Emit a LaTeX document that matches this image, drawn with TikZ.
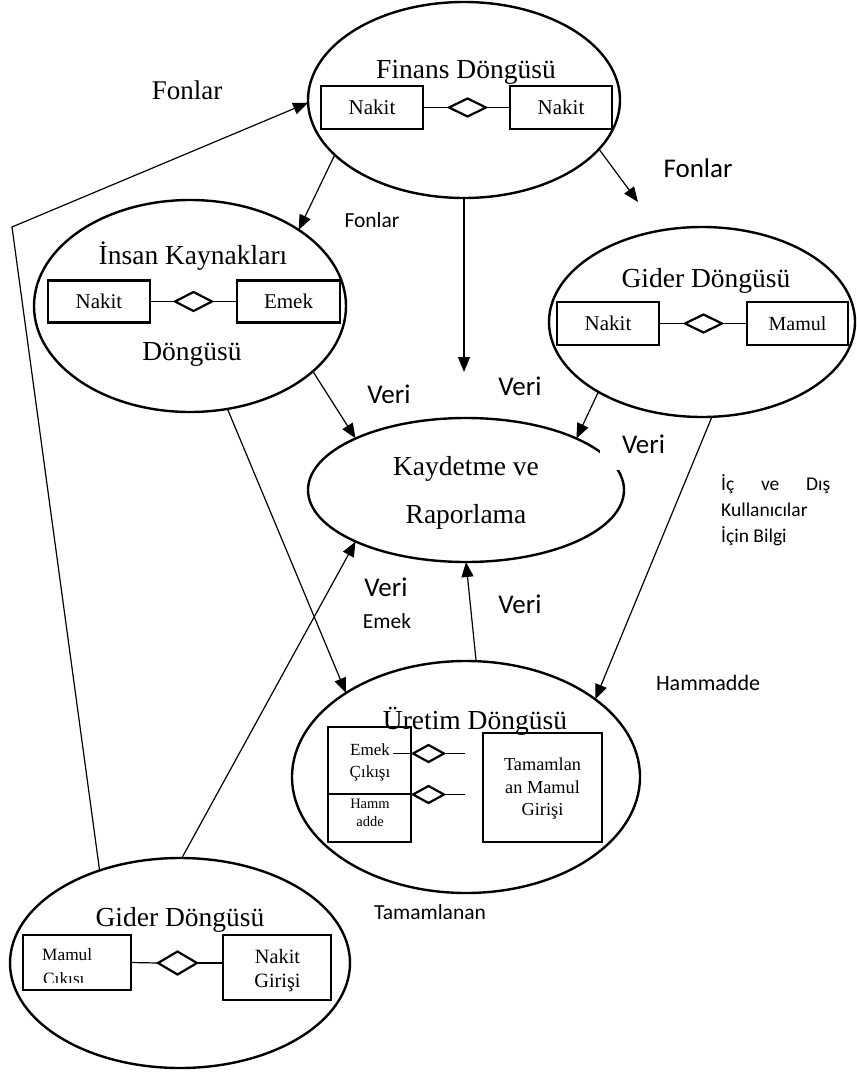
\documentclass[tikz,border=0pt]{standalone}
\usepackage{fontspec}
\setmainfont{Liberation Serif}
\newfontfamily\labelfont{Carlito}
\usetikzlibrary{shapes.geometric,arrows.meta}

\begin{document}
\begin{tikzpicture}[x=1pt,y=-1pt,
  cycle/.style={draw, ellipse, line width=2.4pt, inner sep=0pt, outer sep=0pt},
  entity/.style={draw, rectangle, line width=2.4pt, inner sep=0pt, outer sep=0pt,
    font=\fontsize{21}{25}\selectfont},
  rel/.style={draw, diamond, line width=2.2pt, inner sep=0pt, outer sep=0pt,
    minimum width=37pt, minimum height=18pt},
  smallrel/.style={rel, minimum width=31pt, minimum height=17pt},
  link/.style={line width=1.2pt},
  flow/.style={line width=1.2pt, -{Triangle[length=15pt,width=12pt]}},
  title/.style={anchor=base, inner sep=0pt, font=\fontsize{27.5}{33}\selectfont},
  btext/.style={anchor=base, inner sep=0pt},
  lblg/.style={anchor=base, inner sep=0pt, font=\labelfont\fontsize{27}{32}\selectfont},
  lbsm/.style={anchor=base, inner sep=0pt, font=\labelfont\fontsize{21.5}{26}\selectfont},
  lbinfo/.style={anchor=base west, inner sep=0pt, font=\labelfont\fontsize{19.5}{26}\selectfont}
]
\useasboundingbox (0,0) rectangle (856,1075);

% cycle ellipses
\node[cycle, minimum width=312pt, minimum height=196pt] (fin) at (464,100) {};
\node[cycle, minimum width=312pt, minimum height=212pt] (ins) at (190,306) {};
\node[cycle, minimum width=306pt, minimum height=190pt] (gr)  at (702,322) {};
\node[cycle, minimum width=316pt, minimum height=144pt] (kay) at (466,490) {};
\node[cycle, minimum width=348pt, minimum height=232pt] (ure) at (466,777) {};
\node[cycle, minimum width=340pt, minimum height=210pt] (gb)  at (180,963) {};

% titles
\node[title] (fint) at (466,79)  {Finans Döngüsü};
\node[title] (inst) at (193,265) {İnsan Kaynakları};
\node[title] (insd) at (192,360) {Döngüsü};
\node[title] (grt)  at (706,287) {Gider Döngüsü};
\node[title] (kay1) at (466,475) {Kaydetme ve};
\node[title] (kay2) at (466,523) {Raporlama};
\node[title] (uret) at (475,729) {Üretim Döngüsü};
\node[title] (gbt)  at (180,926) {Gider Döngüsü};

% finance cycle
\node[entity, minimum width=102pt, minimum height=43pt] (fn1) at (372,107.5) {Nakit};
\node[entity, minimum width=102pt, minimum height=43pt] (fn2) at (561,107.5) {Nakit};
\node[rel] (fd) at (467.5,107.5) {};
\draw[link] (fn1.east) -- (fd.west);
\draw[link] (fd.east) -- (fn2.west);

% human resources cycle
\node[entity, minimum width=102pt, minimum height=42pt] (in1) at (99,301.5) {Nakit};
\node[entity, minimum width=103pt, minimum height=42pt] (in2) at (288.5,301.5) {Emek};
\node[rel, minimum height=19pt] (id) at (193.5,301.5) {};
\draw[link] (in1.east) -- (id.west);
\draw[link] (id.east) -- (in2.west);

% expenditure cycle (right)
\node[entity, minimum width=102pt, minimum height=43pt] (g1) at (608,323.5) {Nakit};
\node[entity, minimum width=101pt, minimum height=43pt, font=\fontsize{20}{24}\selectfont] (g2) at (797.5,323.5) {Mamul};
\node[rel] (gd) at (703.5,323.5) {};
\draw[link] (g1.east) -- (gd.west);
\draw[link] (gd.east) -- (g2.west);

% production cycle
\node[entity, minimum width=83pt, minimum height=67pt] (ue) at (369.5,760.5) {};
\node[entity, minimum width=83pt, minimum height=48pt] (uh) at (369.5,818) {};
\node[entity, minimum width=119pt, minimum height=109pt] (ut) at (542.5,787.5) {};
\node[smallrel] (ud1) at (428.5,753.5) {};
\node[smallrel] (ud2) at (428.5,794.5) {};
\coordinate (uel) at (393,753.5);
\coordinate (ue1) at (465,753.5);
\coordinate (ue2) at (465,794.5);
\draw[link] (uel) -- (ud1.west);
\draw[link] (ud1.east) -- (ue1);
\draw[link] (uh.north east) -- (ud2.west);
\draw[link] (ud2.east) -- (ue2);
\node[btext, font=\fontsize{17}{20}\selectfont] (uet1) at (370,755) {Emek};
\node[btext, font=\fontsize{17}{20}\selectfont] (uet2) at (370,777) {Çıkışı};
\node[btext, font=\fontsize{14.5}{17}\selectfont] (uht1) at (370,808) {Hamm};
\node[btext, font=\fontsize{14.5}{17}\selectfont] (uht2) at (370,826) {adde};
\node[btext, font=\fontsize{18.3}{22}\selectfont] (utt1) at (542.5,770) {Tamamlan};
\node[btext, font=\fontsize{18.3}{22}\selectfont] (utt2) at (542.5,793) {an Mamul};
\node[btext, font=\fontsize{18.3}{22}\selectfont] (utt3) at (542.5,815) {Girişi};

% expenditure cycle (bottom)
\node[entity, minimum width=108pt, minimum height=55pt] (bm) at (77,962.5) {};
\node[entity, minimum width=108pt, minimum height=65pt] (bn) at (277,967.5) {};
\node[rel, minimum width=39pt, minimum height=23pt] (bd) at (177.5,963) {};
\draw[link] (bm.east) -- (bd.west);
\draw[link] (bd.east) -- (bd.east -| bn.west);
\node[btext, anchor=base west, font=\fontsize{17.3}{21}\selectfont] (bmt1) at (42,960) {Mamul};
\begin{scope}
  \clip (24,940) rectangle (129,982);
  \node[btext, anchor=base west, font=\fontsize{17.3}{21}\selectfont] (bmt2) at (43,984) {Çıkışı};
\end{scope}
\node[btext, font=\fontsize{20.3}{24}\selectfont] (bnt1) at (277.5,963) {Nakit};
\node[btext, font=\fontsize{20.3}{24}\selectfont] (bnt2) at (277.5,987) {Girişi};

% flows between the cycles
\coordinate (bend) at (12,227);
\coordinate (fonend) at (638,202);
\coordinate (finend) at (464,372);
\draw[flow] (gb.131) -- (bend) -- (fin.181);
\draw[flow] (fin.203) -- (ins.35);
\draw[flow] (fin.340) -- (fonend);
\draw[flow] (fin.south) -- (finend);
\draw[flow] (ins.332) -- (kay.155);
\draw[flow] (gr.214) -- (kay.25);
\draw[flow] (ins.290) -- (ure.145);
\draw[flow] (gr.276) -- (ure.31);
\draw[flow] (ure.85) -- (kay.270);
\draw[flow] (gb.89) -- (kay.205);

% flow labels
\node[title, font=\fontsize{27}{32}\selectfont] (fonL) at (187,100) {Fonlar};
\node[lblg] (fonR) at (698,178) {Fonlar};
\node[lbsm] (fonS) at (372,228) {Fonlar};
\node[lblg] (veri1) at (389,403) {Veri};
\node[lblg] (veri2) at (520,395) {Veri};
\node[lblg, fill=white, text height=20pt, text depth=17pt, inner xsep=22pt] (veri3) at (643.5,453) {Veri};
\node[lblg] (veri4) at (386,596) {Veri};
\node[lbsm] (emek) at (387,628) {Emek};
\node[lblg] (veri5) at (520,613) {Veri};
\node[lbinfo] (info1) at (721,490) {\makebox[109pt][s]{İç ve Dış}};
\node[lbinfo] (info2) at (721,516) {Kullanıcılar};
\node[lbinfo] (info3) at (721,542) {İçin Bilgi};
\node[lbsm, font=\labelfont\fontsize{22}{26}\selectfont] (hamm) at (708,690) {Hammadde};
\node[lbsm] (tamam) at (430,919) {Tamamlanan};
\end{tikzpicture}
\end{document}
